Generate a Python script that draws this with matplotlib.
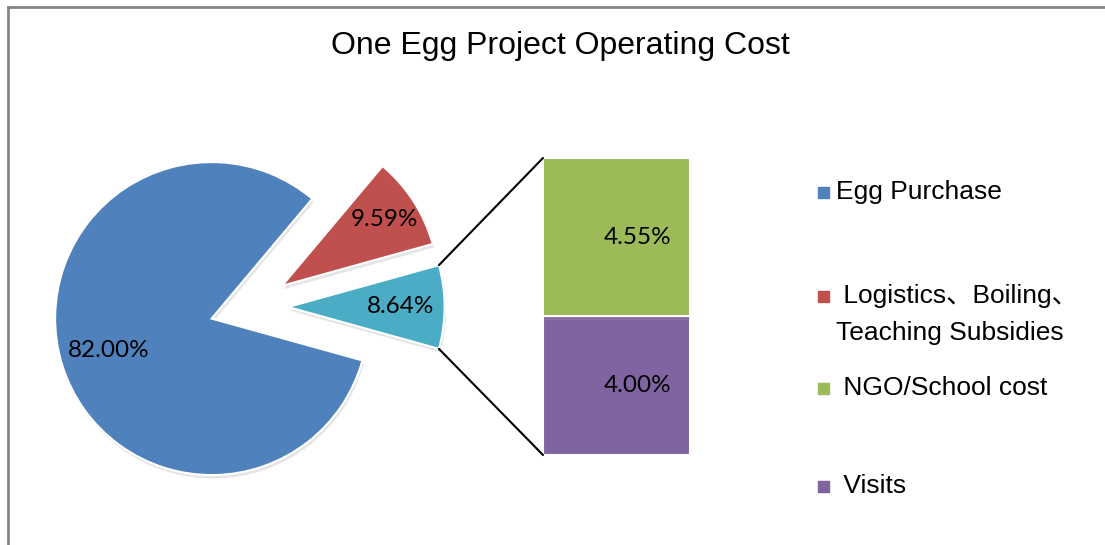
import numpy as np
import matplotlib
matplotlib.use("Agg")
import matplotlib.pyplot as plt
import matplotlib.patheffects as pe
from matplotlib.lines import Line2D
from matplotlib.patches import ConnectionPatch, Rectangle

# data
pie_labels = ["8.64%", "9.59%", "82.00%"]
pie_values = [8.64, 9.59, 82.00]          # teal (other), red, blue
pie_colors = ["#4BACC6", "#C0504D", "#4F81BD"]
bar_values = [4.00, 4.55]                 # bottom -> top
bar_colors = ["#8064A2", "#9BBB59"]
legend_labels = ["Egg Purchase", " Logistics\u3001Boiling\u3001\nTeaching Subsidies",
                 " NGO/School cost", " Visits"]
legend_colors = ["#4F81BD", "#C0504D", "#9BBB59", "#8064A2"]

W, H = 1105, 545
fig = plt.figure(figsize=(W / 100, H / 100), dpi=100)
fig.patch.set_facecolor("white")

shadow = [pe.SimplePatchShadow(offset=(1, -2.5), shadow_rgbFace="#999999", alpha=0.25), pe.Normal()]

# pie axes: centre at (249, 307) px, unit radius 156.5 px
r_px, cx, cy, lim = 156.5, 249, 307, 1.45
half = r_px * lim
ax_pie = fig.add_axes([(cx - half) / W, (H - cy - half) / H, 2 * half / W, 2 * half / H])
frac0 = pie_values[0] / sum(pie_values) * 360
wedges, _ = ax_pie.pie(pie_values, colors=pie_colors, explode=[0.25, 0.25, 0.25],
                       startangle=-frac0 / 2, counterclock=True,
                       wedgeprops=dict(edgecolor="white", linewidth=1.5))
for w in wedges:
    w.set_path_effects(shadow)
ax_pie.set_xlim(-lim, lim)
ax_pie.set_ylim(-lim, lim)
ax_pie.set_aspect("equal")
ax_pie.axis("off")

label_dist = [0.72, 0.78, 0.69]
for w, lab, d in zip(wedges, pie_labels, label_dist):
    mid = np.deg2rad((w.theta1 + w.theta2) / 2)
    x0, y0 = w.center
    ax_pie.text(x0 + d * np.cos(mid), y0 + d * np.sin(mid), lab, ha="center", va="center",
                fontsize=17.5, family="Lato", color="black")

# bar axes
bx0, bx1, by0, by1 = 543, 690, 158, 455
ax_bar = fig.add_axes([bx0 / W, (H - by1) / H, (bx1 - bx0) / W, (by1 - by0) / H])
bottom = 0
for v, c in zip(bar_values, bar_colors):
    b = ax_bar.bar(0, v, bottom=bottom, width=1, color=c, edgecolor="white", linewidth=1.5)
    b[0].set_path_effects(shadow)
    ax_bar.text(0.14, bottom + v / 2, f"{v:.2f}%", ha="center", va="center",
                fontsize=17.5, family="Lato", color="black")
    bottom += v
ax_bar.set_xlim(-0.5, 0.5)
ax_bar.set_ylim(0, bottom)
ax_bar.axis("off")

# connector lines from the teal slice to the bar
teal = wedges[0]
for ang, ybar in [(teal.theta2, bottom), (teal.theta1, 0)]:
    a = np.deg2rad(ang)
    xa = teal.center[0] + np.cos(a)
    ya = teal.center[1] + np.sin(a)
    con = ConnectionPatch(xyA=(xa, ya), coordsA=ax_pie.transData,
                          xyB=(-0.5, ybar), coordsB=ax_bar.transData,
                          color="black", linewidth=1.5)
    fig.add_artist(con)

# legend, laid out like the original
leg_font = dict(fontsize=19, family=["Liberation Sans", "Noto Sans CJK SC"])
leg_y = [192, 296, 388, 486]
for lab, col, y in zip(legend_labels, legend_colors, leg_y):
    fig.add_artist(Rectangle((818 / W, (H - y - 5.5) / H), 11 / W, 11 / H,
                             transform=fig.transFigure, color=col))
    for i, line in enumerate(lab.split("\n")):
        fig.text(836 / W, (H - y - 37 * i) / H, line, ha="left", va="center", **leg_font)

# title
fig.text(560 / W, (H - 46) / H, "One Egg Project Operating Cost", ha="center", va="center",
         fontsize=23, family="Liberation Sans")

# chart frame (top and left edges visible)
fig.add_artist(Line2D([8 / W, 1], [(H - 7) / H] * 2, transform=fig.transFigure,
                      color="#868686", linewidth=2))
fig.add_artist(Line2D([8 / W] * 2, [0, (H - 7) / H], transform=fig.transFigure,
                      color="#868686", linewidth=2))

fig.savefig("out.png", dpi=100)
